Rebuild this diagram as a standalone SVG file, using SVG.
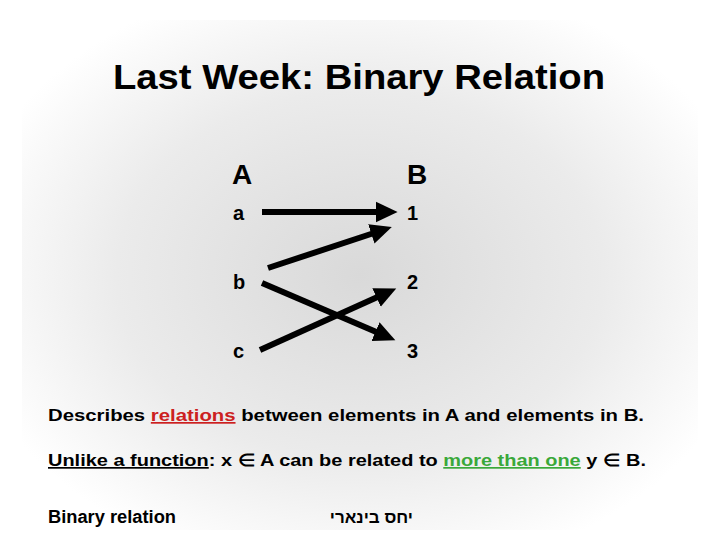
<svg xmlns="http://www.w3.org/2000/svg" width="720" height="540" viewBox="0 0 720 540">
<defs>
<radialGradient id="bg" cx="50%" cy="50%" r="60%">
<stop offset="0" stop-color="#d9d9d9"/>
<stop offset="0.6" stop-color="#ebebeb"/>
<stop offset="1" stop-color="#ffffff"/>
</radialGradient>
<marker id="ah" markerWidth="4" markerHeight="4" refX="1" refY="2" orient="auto" markerUnits="strokeWidth" viewBox="0 0 4 4">
<path d="M0,0.3 L3.6,2 L0,3.7 Z" fill="#000"/>
</marker>
<style>
text{font-family:"Liberation Sans",Arial,sans-serif;fill:#000;font-weight:bold}
.set{font-size:28px}
.el{font-size:20px}
.b{font-size:17px}
.conn line{stroke:#000;stroke-width:6;marker-end:url(#ah)}
</style>
</defs>
<rect width="720" height="540" fill="#fff"/>
<rect x="22" y="20" width="676" height="510" fill="url(#bg)"/>
<text x="359" y="89" text-anchor="middle" font-size="35" textLength="492" lengthAdjust="spacingAndGlyphs">Last Week: Binary Relation</text>
<g id="setA"><text class="set" x="232" y="184">A</text></g>
<g id="setB"><text class="set" x="407" y="184">B</text></g>
<g id="node-a"><text class="el" x="233" y="220">a</text></g>
<g id="node-b"><text class="el" x="233" y="289">b</text></g>
<g id="node-c"><text class="el" x="233" y="358">c</text></g>
<g id="node-1"><text class="el" x="407" y="220">1</text></g>
<g id="node-2"><text class="el" x="407" y="289">2</text></g>
<g id="node-3"><text class="el" x="407" y="358">3</text></g>
<g class="conn" id="connectors">
<line x1="262" y1="212" x2="382" y2="212"/>
<line x1="268" y1="268" x2="377" y2="232"/>
<line x1="262" y1="283" x2="381" y2="334"/>
<line x1="260" y1="350" x2="382" y2="295"/>
</g>
<text class="b" x="48" y="421" textLength="596" lengthAdjust="spacingAndGlyphs">Describes <tspan fill="#cc2020" text-decoration="underline">relations</tspan> between elements in A and elements in B.</text>
<text class="b" x="48" y="466" textLength="598" lengthAdjust="spacingAndGlyphs"><tspan text-decoration="underline">Unlike a function</tspan>: x ∈ A can be related to <tspan fill="#3aa83a" text-decoration="underline">more than one</tspan> y ∈ B.</text>
<text x="48" y="523" font-size="18" textLength="128" lengthAdjust="spacingAndGlyphs">Binary relation</text>
<text x="413" y="523" font-size="17" text-anchor="end">יחס בינארי</text>
</svg>
